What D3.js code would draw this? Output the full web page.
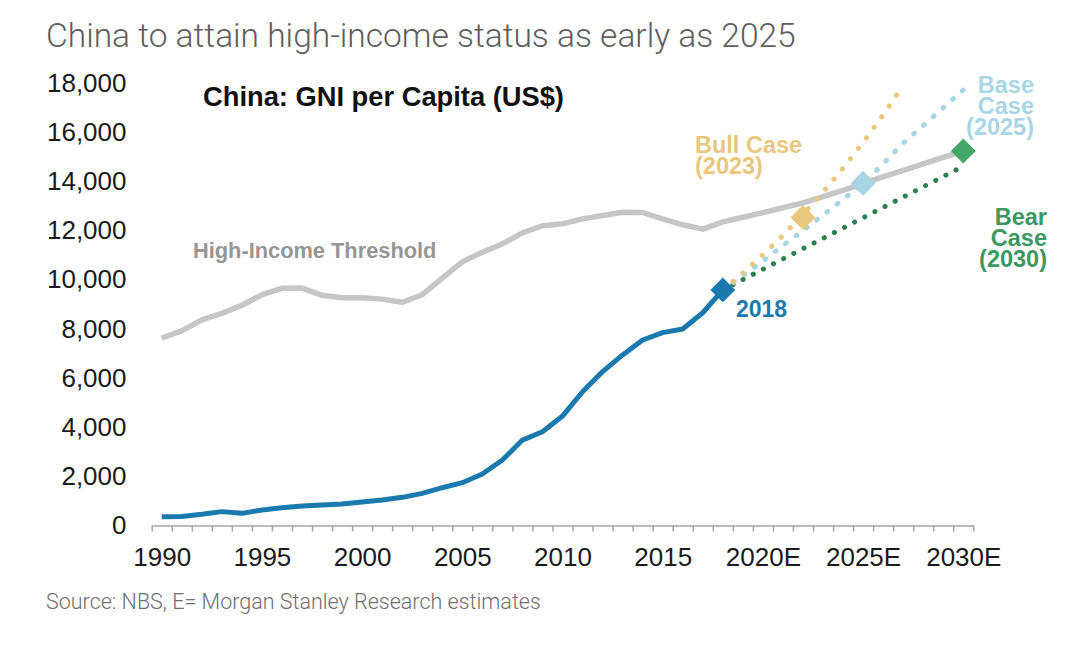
<!DOCTYPE html>
<html><head><meta charset="utf-8">
<script src="https://cdn.jsdelivr.net/npm/d3@7/dist/d3.min.js"></script>
<style>body{margin:0;background:#fff}svg{display:block}</style>
</head><body>
<svg id="chart" width="1080" height="653"></svg>
<script>
// ---------- data ----------
const categories = d3.range(1990, 2031);
const xTickLabels = ["1990","1995","2000","2005","2010","2015","2020E","2025E","2030E"];
const xTickYears = [1990,1995,2000,2005,2010,2015,2020,2025,2030];
const yTicks = [0,2000,4000,6000,8000,10000,12000,14000,16000,18000];

const chinaYears = [1990,1991,1992,1993,1994,1995,1996,1997,1998,1999,2000,2001,2002,2003,2004,2005,2006,2007,2008,2009,2010,2011,2012,2013,2014,2015,2016,2017,2018];
const chinaGNI   = [340,350,435,545,475,610,705,775,815,855,937,1020,1127,1290,1520,1725,2080,2650,3460,3800,4440,5430,6250,6930,7540,7840,7990,8650,9580];

const thresholdYears  = [1990,1991,1992,1993,1994,1995,1996,1997,1998,1999,2000,2001,2002,2003,2004,2005,2006,2007,2008,2009,2010,2011,2012,2013,2014,2015,2016,2017,2018,2019,2020,2021,2022,2023,2024,2025,2026,2027,2028,2029,2030];
const thresholdValues = [7620,7910,8355,8625,8955,9385,9645,9655,9360,9265,9265,9205,9075,9385,10065,10725,11115,11455,11905,12195,12275,12475,12615,12745,12735,12475,12235,12055,12350,12540,12730,12930,13130,13380,13640,13925,14190,14450,14715,14980,15240];

const bullYears  = [2018,2019,2020,2021,2022,2023,2024,2025,2026,2027];
const bullValues = [9580,10270,11010,11800,12650,13560,14540,15590,16710,17910];
const baseYears  = [2018,2019,2020,2021,2022,2023,2024,2025,2026,2027,2028,2029,2030];
const baseValues = [9580,10160,10760,11390,12000,12630,13270,13925,14720,15560,16280,17000,17730];
const bearYears  = [2018,2019,2020,2021,2022,2023,2024,2025,2026,2027,2028,2029,2030];
const bearValues = [9580,10000,10420,10840,11260,11680,12100,12520,12940,13360,13780,14200,14620];

const markerNames  = ["2018","Bull","Base","Bear"];
const markerYears  = [2018,2022,2025,2030];
const markerValues = [9580,12530,13925,15240];

// ---------- styles ----------
const C = {
  blue:"#1a7aaf", gray:"#c6c6c6", gold:"#e9c77c", light:"#a8d6e4",
  greenDot:"#2b8052", green:"#43a66b", greenText:"#3c9862",
  axis:"#a3a3a3", text:"#1a1a1a"
};
const markerColors = [C.blue, C.gold, C.light, C.green];

const svg = d3.select("#chart");
svg.append("rect").attr("width",1080).attr("height",653).attr("fill","#fff");

const xb = d3.scaleBand().domain(categories).range([151.7, 973.3]).paddingInner(0).paddingOuter(0);
const xc = d => xb(d) + xb.bandwidth()/2;
const xl = d3.scaleLinear().domain([1989.5, 2030.5]).range([151.7, 973.3]);
const y = d3.scaleLinear().domain([0, 18000]).range([525, 83.3]);

// title
svg.append("text").attr("x",46).attr("y",47)
  .attr("font-family","Roboto, 'Open Sans', sans-serif").attr("font-weight",300)
  .attr("font-size",33.5).attr("fill","#5e5e5e")
  .text("China to attain high-income status as early as 2025");

// y axis
const yAxis = svg.append("g").attr("transform","translate(130,0)")
  .call(d3.axisLeft(y).tickValues(yTicks).tickSize(0).tickPadding(3.5).tickFormat(d3.format(",")));
yAxis.select(".domain").remove();
yAxis.selectAll("text").attr("font-family","'Liberation Sans', Arial, sans-serif")
  .attr("font-size",26).attr("fill",C.text);

// x axis ticks (between categories)
const boundaries = d3.range(1989.5, 2031, 1);
const xAxis = svg.append("g").attr("transform","translate(0,525.5)")
  .call(d3.axisBottom(xl).tickValues(boundaries).tickSize(6).tickSizeOuter(0).tickFormat(""));
xAxis.select(".domain").attr("stroke",C.axis).attr("stroke-width",1.5);
xAxis.selectAll(".tick line").attr("stroke",C.axis).attr("stroke-width",1.5);

const xLab = svg.append("g").attr("transform","translate(0,525.5)")
  .call(d3.axisBottom(xl).tickValues(xTickYears).tickSize(0).tickPadding(22)
    .tickFormat((d,i)=>xTickLabels[i]));
xLab.select(".domain").remove();
xLab.selectAll("text").attr("font-family","'Liberation Sans', Arial, sans-serif")
  .attr("font-size",26).attr("fill",C.text);

const line = d3.line().x(d=>xc(d[0])).y(d=>y(d[1]));

// threshold line
svg.append("path").datum(d3.zip(thresholdYears, thresholdValues))
  .attr("d", line).attr("fill","none").attr("stroke",C.gray).attr("stroke-width",5.5)
  .attr("stroke-linejoin","round");

// projections
function dotted(ys, vs, color, dash, w){
  svg.append("path").datum(d3.zip(ys, vs)).attr("d", line).attr("fill","none")
    .attr("stroke",color).attr("stroke-width",w).attr("stroke-linecap","round")
    .attr("stroke-dasharray",dash);
}
dotted(bearYears, bearValues, C.greenDot, "0.1 11.3", 5);
dotted(baseYears, baseValues, C.light, "1 12", 5);
dotted(bullYears, bullValues, C.gold, "0.1 13", 5);

// china line
svg.append("path").datum(d3.zip(chinaYears, chinaGNI))
  .attr("d", line).attr("fill","none").attr("stroke",C.blue).attr("stroke-width",5)
  .attr("stroke-linejoin","round");

// diamonds
svg.selectAll("rect.mk").data(markerYears).enter().append("rect").attr("class","mk")
  .attr("x",-8.8).attr("y",-8.8).attr("width",17.6).attr("height",17.6)
  .attr("transform",(d,i)=>`translate(${xc(d)},${y(markerValues[i])}) rotate(45)`)
  .attr("fill",(d,i)=>markerColors[i]);

// labels
const bold = "'Liberation Sans', Arial, sans-serif";
svg.append("text").attr("x",203).attr("y",106).attr("font-family",bold).attr("font-weight","bold")
  .attr("font-size",27.3).attr("fill","#111").text("China: GNI per Capita (US$)");
svg.append("text").attr("x",193).attr("y",258).attr("font-family",bold).attr("font-weight","bold")
  .attr("font-size",21.8).attr("fill","#969696").text("High-Income Threshold");
svg.append("text").attr("x",736).attr("y",317).attr("font-family",bold).attr("font-weight","bold")
  .attr("font-size",23).attr("fill","#1c79ab").text("2018");

function multi(lines, x, y0, anchor, color){
  const t = svg.append("text").attr("font-family",bold).attr("font-weight","bold")
    .attr("font-size",23.5).attr("fill",color).attr("text-anchor",anchor);
  lines.forEach((s,i)=>t.append("tspan").attr("x",x).attr("y",y0+i*21).text(s));
}
multi(["Bull Case","(2023)"], 695, 153, "start", C.gold);
multi(["Base","Case","(2025)"], 1034, 93, "end", C.light);
multi(["Bear","Case","(2030)"], 1047, 225, "end", C.greenText);

// source
svg.append("text").attr("x",46).attr("y",609)
  .attr("font-family","Roboto, 'Open Sans', sans-serif").attr("font-weight",300)
  .attr("font-size",21.5).attr("fill","#6e6e6e")
  .text("Source: NBS, E= Morgan Stanley Research estimates");
</script>
</body></html>
